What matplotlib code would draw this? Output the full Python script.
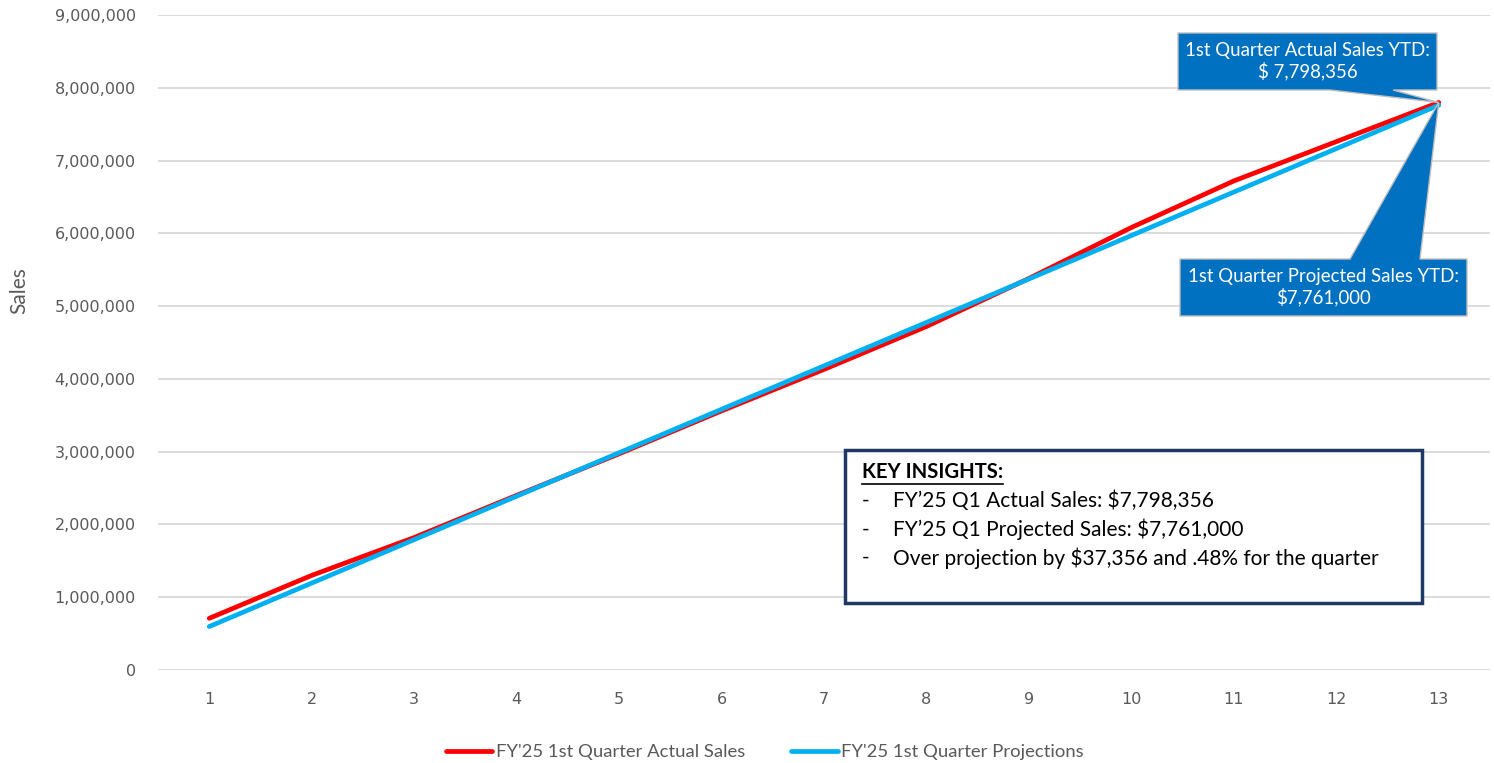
import matplotlib
matplotlib.use("Agg")
import matplotlib.pyplot as plt
from matplotlib.patches import Polygon, Rectangle
from matplotlib.ticker import FuncFormatter

# weeks of the quarter
weeks = [1, 2, 3, 4, 5, 6, 7, 8, 9, 10, 11, 12, 13]
# cumulative sales
actual_sales = [710000, 1300000, 1820000, 2400000, 2970000, 3560000, 4130000,
                4720000, 5380000, 6080000, 6720000, 7260000, 7798356]
projected_sales = [597000, 1194000, 1791000, 2388000, 2985000, 3582000, 4179000,
                   4776000, 5373000, 5970000, 6567000, 7164000, 7761000]

series_names = ["FY'25 1st Quarter Actual Sales", "FY'25 1st Quarter Projections"]
callout_actual = "1st Quarter Actual Sales YTD:\n$ 7,798,356"
callout_projected = "1st Quarter Projected Sales YTD:\n$7,761,000"
insight_title = "KEY INSIGHTS:"
insight_lines = ["FY\u201925 Q1 Actual Sales: $7,798,356",
                 "FY\u201925 Q1 Projected Sales: $7,761,000",
                 "Over projection by $37,356 and .48% for the quarter"]

W, H = 1494, 763
fig = plt.figure(figsize=(W / 100, H / 100), dpi=100)
ax = fig.add_axes([158 / W, 1 - 670 / H, (1490 - 158) / W, (670 - 15) / H])

def fx(px):
    return px / W

def fy(py):
    return 1 - py / H

ax.plot(weeks, actual_sales, color="#FF0000", lw=3.4, solid_capstyle="round",
        label=series_names[0], zorder=3)
ax.plot(weeks, projected_sales, color="#00B0F0", lw=3.4, solid_capstyle="round",
        label=series_names[1], zorder=4)

ax.set_xlim(0.5, 13.5)
ax.set_ylim(0, 9000000)
ax.set_xticks(weeks)
ax.set_yticks(range(0, 9000001, 1000000))
ax.yaxis.set_major_formatter(FuncFormatter(lambda v, p: f"{int(v):,}"))
ax.grid(axis="y", color="#D9D9D9", lw=1.3)
ax.set_axisbelow(True)
for s in ax.spines.values():
    s.set_visible(False)
ax.tick_params(length=0, labelsize=11.5, labelcolor="#595959", pad=16)
ax.tick_params(axis="x", pad=16)
ax.set_ylabel("Sales", fontsize=15, color="#595959", family="Lato")
ax.yaxis.set_label_coords(-0.097, (670 - 291) / 655)

leg = fig.legend(loc="center", bbox_to_anchor=(fx(765), fy(752)), ncol=2, frameon=False,
                 handlelength=2.5, handletextpad=0.2, columnspacing=2.5,
                 prop={"family": "Lato", "size": 13.3})
for t in leg.get_texts():
    t.set_color("#595959")

# tip of both callouts sits on the last data point
tip_disp = ax.transData.transform((weeks[-1], actual_sales[-1]))
tip = fig.transFigure.inverted().transform(tip_disp)

blue = "#0070C0"
# callout for actual sales (box above, pointer from bottom edge)
x0, x1, y0, y1 = fx(1178), fx(1437), fy(33), fy(90)
poly1 = Polygon([(x0, y0), (x1, y0), (x1, y1), (fx(1393), y1), tuple(tip),
                 (fx(1330), y1), (x0, y1)], closed=True, transform=fig.transFigure,
                facecolor=blue, edgecolor="#BFBFBF", lw=1, zorder=5)
fig.add_artist(poly1)
fig.text((x0 + x1) / 2, (y0 + y1) / 2, callout_actual, ha="center", va="center",
         color="white", fontsize=13.4, family="Lato", linespacing=1.2, zorder=6)

# callout for projected sales (box below, pointer from top edge)
x0, x1, y0, y1 = fx(1180), fx(1467), fy(259), fy(316)
poly2 = Polygon([(x0, y0), (fx(1350), y0), tuple(tip), (fx(1420), y0), (x1, y0),
                 (x1, y1), (x0, y1)], closed=True, transform=fig.transFigure,
                facecolor=blue, edgecolor="#BFBFBF", lw=1, zorder=5)
fig.add_artist(poly2)
fig.text((x0 + x1) / 2, (y0 + y1) / 2, callout_projected, ha="center", va="center",
         color="white", fontsize=13.4, family="Lato", linespacing=1.2, zorder=6)

# key insights box
box = Rectangle((fx(845), fy(603)), fx(1422) - fx(845), fy(450) - fy(603),
                transform=fig.transFigure, facecolor="white", edgecolor="#1F3864",
                lw=2.5, zorder=5)
fig.add_artist(box)
title = fig.text(fx(862), fy(472), insight_title, ha="left", va="center", fontsize=14.6,
                 family="Lato", fontweight="bold", color="black", zorder=6)
fig.canvas.draw()
bb = title.get_window_extent().transformed(fig.transFigure.inverted())
fig.add_artist(plt.Line2D([bb.x0, bb.x1], [fy(484), fy(484)], transform=fig.transFigure,
                          color="black", lw=1.2, zorder=6))
for i, line in enumerate(insight_lines):
    ypos = fy(501 + 28.5 * i)
    fig.text(fx(862), ypos, "-", ha="left", va="center", fontsize=15, family="Lato",
             color="black", zorder=6)
    fig.text(fx(893), ypos, line, ha="left", va="center", fontsize=15, family="Lato",
             color="black", zorder=6)

fig.savefig("out.png", dpi=100)
